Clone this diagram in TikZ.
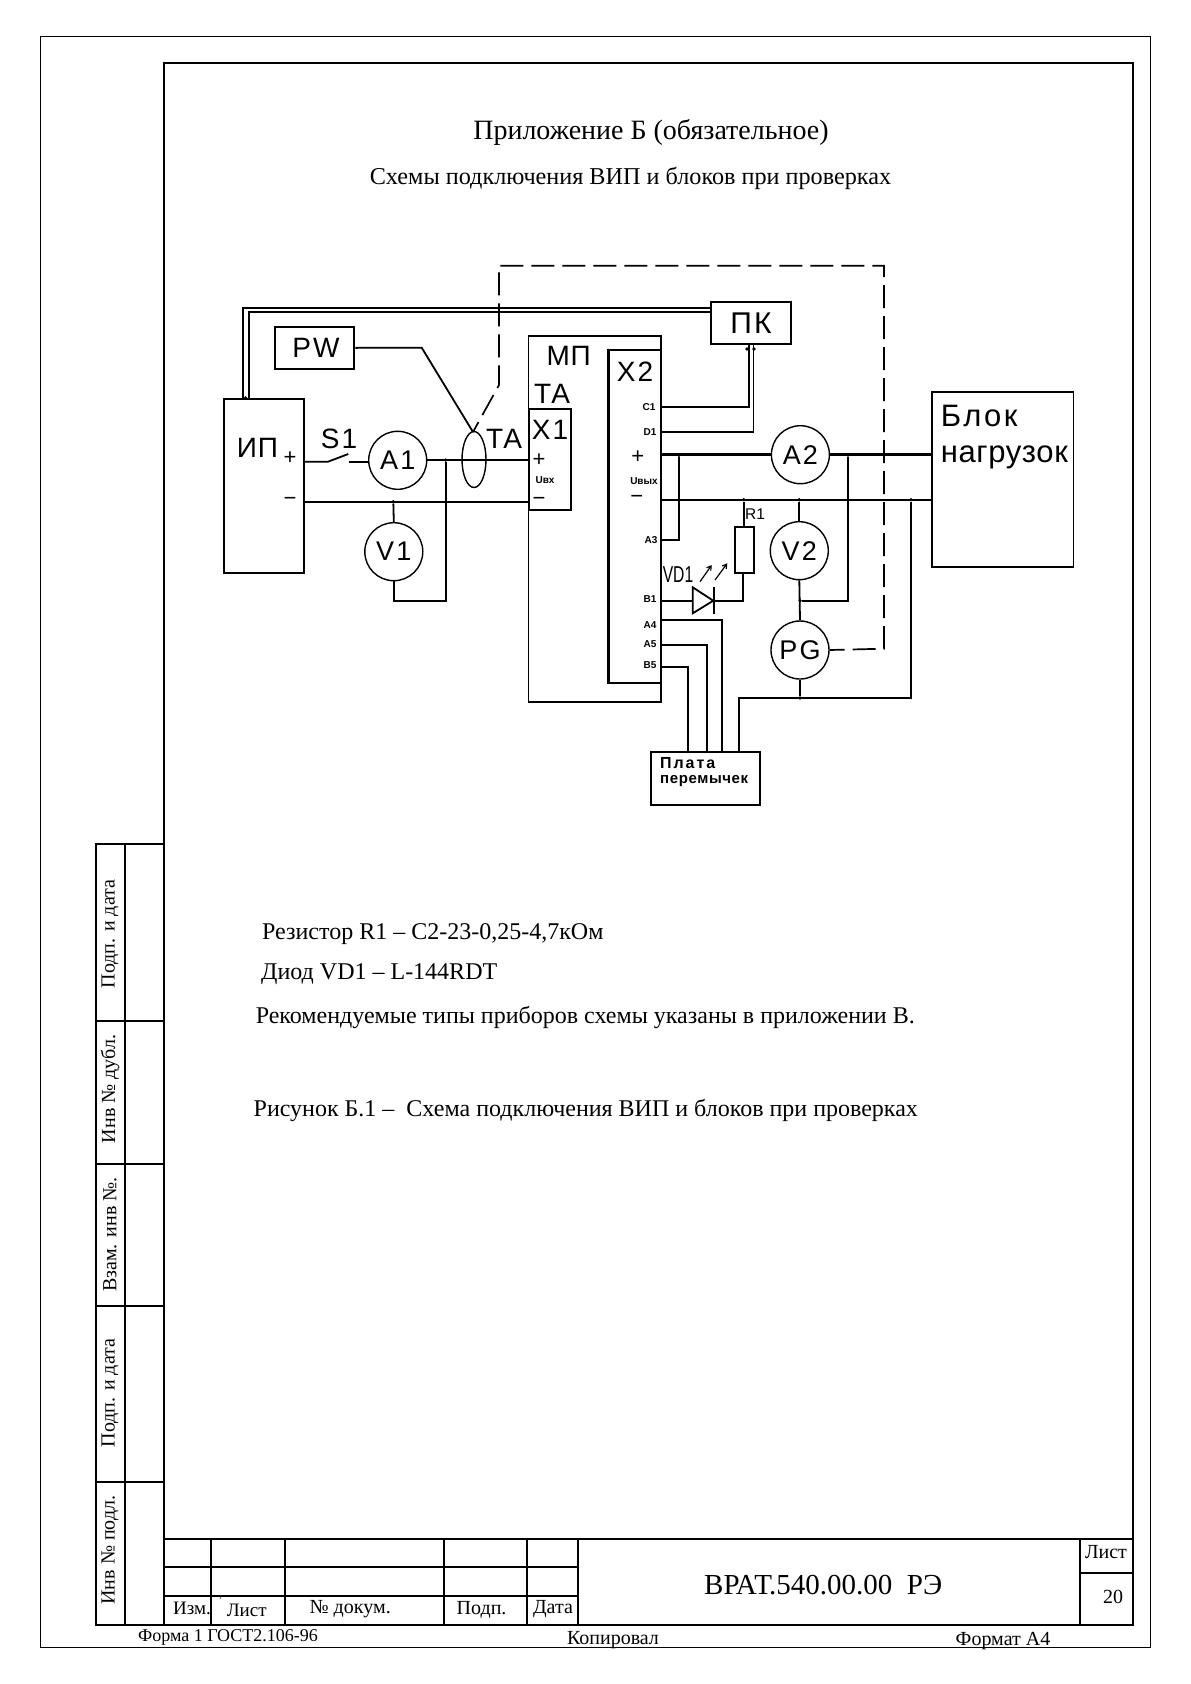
\documentclass[tikz,border=0pt]{standalone}
\usepackage{fontspec}
\usepackage{graphicx}
\usetikzlibrary{arrows.meta}
\setmainfont{Liberation Serif}
\newfontfamily\schem[LetterSpace=8]{Liberation Sans}
\newfontfamily\schemb{Liberation Sans}
\newcommand{\fs}[1]{\fontsize{#1}{#1}\selectfont}
\tikzset{
  wire/.style={line width=1.8pt},
  heavy/.style={line width=3.4pt},
  thinframe/.style={line width=1pt},
  tableline/.style={line width=2pt},
  blockbox/.style={draw,line width=1.9pt,inner sep=0pt},
  meter/.style={draw,circle,line width=1.4pt,minimum size=58pt,inner sep=0pt,font=\schem\fs{27}},
  lab/.style={inner sep=0pt,font=\schem\fs{28}},
  tiny/.style={inner sep=0pt,font=\schemb\bfseries\fs{10}},
  signs/.style={inner sep=0pt,font=\schemb\fs{22}},
  body/.style={inner sep=0pt,anchor=west,font=\fs{24}},
  small/.style={inner sep=0pt,font=\fs{20}},
  side/.style={inner sep=0pt,rotate=90,font=\fs{20}},
  jdot/.style={circle,fill=black,inner sep=0pt,minimum size=3.6pt},
  fbdash/.style={line width=1.7pt,dash pattern=on 23pt off 8pt,dash phase=8pt}
}
\begin{document}
\begin{tikzpicture}[x=1pt,y=-1pt]
\useasboundingbox (0,0) rectangle (1191,1684);
% frames
\draw[thinframe] (40,36.5) rectangle (1150.3,1647);
\draw[line width=2pt] (164.3,63.4) rectangle (1132.6,1625);
% side strip
\draw[tableline] (95.7,844.3) rectangle (164.3,1625);
\draw[tableline] (125.3,844.3) -- (125.3,1625);
\foreach \y in {1021,1164,1306,1482}{\draw[tableline] (95.7,\y) -- (164.3,\y);}
\node[side] (s1) at (110,934) {Подп. и дата};
\node[side] (s2) at (110,1089) {Инв № дубл.};
\node[side] (s3) at (110,1234.6) {Взам. инв №.};
\node[side] (s4) at (110,1393) {Подп. и дата};
\node[side] (s5) at (110,1550) {Инв № подл.};
% title block
\draw[tableline] (164.3,1539.3) -- (1132.6,1539.3);
\draw[tableline] (164.3,1567.3) -- (578.4,1567.3);
\draw[tableline] (164.3,1596) -- (578.4,1596);
\foreach \x in {211,284.5,443.7,527,578.4}{\draw[tableline] (\x,1539.3) -- (\x,1625);}
\draw[tableline] (1079.8,1539.3) -- (1079.8,1625);
\draw[tableline] (1079.8,1572.7) -- (1132.6,1572.7);
\draw[line width=0.5pt] (220.5,1597) -- (220,1599);
\node[small,font=\fs{19}] (t1) at (192,1608) {Изм.};
\node[small,font=\fs{19}] (t2) at (246.7,1610) {Лист};
\node[small] (t3) at (350.2,1609.5) {№ докум.};
\node[small] (t4) at (481.6,1609.5) {Подп.};
\node[small] (t5) at (553,1609.5) {Дата};
\node[small,font=\fs{18}] (f1) at (228,1637.7) {Форма 1 ГОСТ2.106-96};
\node[small] (f2) at (613,1640) {Копировал};
\node[small] (f3) at (1003,1641) {Формат А4};
\node[inner sep=0pt,font=\fs{29}] (doc) at (823.2,1585) {ВРАТ.540.00.00\ \ РЭ};
\node[small] (sh) at (1106,1551.7) {Лист};
\node[small] (sn) at (1113,1597) {20};
% headings
\node[inner sep=0pt,font=\fs{28}] (h1) at (651,132) {Приложение Б (обязательное)};
\node[inner sep=0pt,font=\fs{24.2}] (h2) at (630.5,178) {Схемы подключения ВИП и блоков при проверках};
\node[body] (b1) at (262,934) {Резистор R1 – С2-23-0,25-4,7кОм};
\node[body] (b2) at (261,974) {Диод VD1 – L-144RDT};
\node[body] (b3) at (255.6,1017) {Рекомендуемые типы приборов схемы указаны в приложении В.};
\node[body] (b4) at (253.5,1110) {Рисунок Б.1 –\ \ Схема подключения ВИП и блоков при проверках};
% boxes
\node[blockbox,minimum width=80.3pt,minimum height=174pt] (ip) at (263.85,486) {};
\node[blockbox,minimum width=79.6pt,minimum height=42.3pt,font=\schem\fs{28}] (pw) at (314.5,347.85) {\hspace{3pt}PW};
\node[blockbox,minimum width=80pt,minimum height=42.6pt,font=\schem\fs{30}] (pk) at (751,323) {ПК};
\node[blockbox,minimum width=141.7pt,minimum height=175pt] (load) at (1002.65,479.2) {};
\node[blockbox,minimum width=109.3pt,minimum height=53.3pt] (plate) at (705.35,778.35) {};
\node[blockbox,minimum width=132.5pt,minimum height=366pt] (mp) at (594.75,518.7) {};
\node[draw,line width=2.4pt,inner sep=0pt,minimum width=52.7pt,minimum height=333.3pt] (x2) at (634.65,516.35) {};
\node[blockbox,fill=white,minimum width=42pt,minimum height=100.7pt] (x1) at (550,459.35) {};
\node[blockbox,minimum width=19pt,minimum height=46.6pt] (r1) at (744.5,550) {};
\node[meter] (a1) at (397.7,460.3) {A1};
\node[meter] (v1) at (393.8,551.7) {V1};
\node[meter] (a2) at (800.4,454.7) {A2};
\node[meter] (v2) at (799.3,550.7) {V2};
\node[meter] (pg) at (800,650) {PG};
\draw[line width=1.4pt] (474,459.5) ellipse (12 and 28);
\coordinate (taneck) at (473,432);
% labels
\node[lab,font=\schemb\fs{28}] (lip) at (257.5,448) {\addfontfeature{LetterSpace=3}ИП};
\node[signs] (ipp) at (290,458) {+};
\node[signs] (ipm) at (290,501) {−};
\node[lab] (ls1) at (339,439.3) {S1};
\node[lab] (lta) at (504.2,439) {TA};
\node[lab,font=\schemb\fs{28}] (lmp) at (568.7,356) {\addfontfeature{LetterSpace=3}МП};
\node[lab] (lta2) at (552,394) {TA};
\node[lab] (lx1) at (550,430) {X1};
\node[lab] (lx2) at (635,372) {X2};
\node[signs] (x1p) at (539,460) {+};
\node[tiny] (x1u) at (545,480.5) {Uвх};
\node[signs] (x1m) at (539,501) {−};
\node[tiny] (c1) at (649,407.3) {C1};
\node[tiny] (d1) at (650,431.7) {D1};
\node[signs] (x2p) at (637.7,457) {+};
\node[tiny] (x2u) at (644,481) {Uвых};
\node[signs] (x2m) at (636.7,499) {−};
\node[tiny] (a3) at (651,540) {A3};
\node[tiny] (b1l) at (650,599) {B1};
\node[tiny] (a4) at (650,625) {A4};
\node[tiny] (a5) at (650,644) {A5};
\node[tiny] (b5) at (650,664.7) {B5};
\node[inner sep=0pt,font=\schemb\fs{23}] (vd) at (678,575) {\scalebox{0.68}[1]{VD1}};
\node[inner sep=0pt,font=\schemb\fs{15.5}] (lr1) at (755,514) {R1};
\node[inner sep=0pt,anchor=west,font=\schem\fs{31}] (lb1) at (940.6,416) {Блок};
\node[inner sep=0pt,anchor=west,font=\schemb\fs{31}] (lb2) at (940.6,457) {\addfontfeature{LetterSpace=2}нагрузок};
\node[inner sep=0pt,anchor=west,font=\schemb\bfseries\fs{16}] (lp1) at (660,763) {\addfontfeature{LetterSpace=12}Плата};
\node[inner sep=0pt,anchor=west,font=\schemb\bfseries\fs{15}] (lp2) at (660,781) {\addfontfeature{LetterSpace=4}перемычек};
% double line IP - PK
\coordinate (dt1) at (243.3,308);
\coordinate (dt2) at (249,311.7);
\draw[wire] (pk.west|-dt1) -- (dt1) -- (dt1|-ip.north);
\draw[wire] (pk.west|-dt2) -- (dt2) -- (dt2|-ip.north);
\node[jdot] (jip) at (245.5,398) {};
% PW to TA
\coordinate (pwk) at (421.7,347.7);
\draw[wire] (pw.east) -- (pwk) -- (taneck);
% feedback dashed
\coordinate (fb1) at (884,648.7);
\coordinate (fb2) at (884,265.7);
\coordinate (fb3) at (499,265.7);
\coordinate (fb4) at (499,385);
\draw[fbdash] (pg.east) -- (fb1) -- (fb2) -- (fb3) -- (fb4) -- (taneck);
% input side
\coordinate (sa) at (328,461.7);
\coordinate (sb) at (348.3,454);
\coordinate (sc) at (349,461.7);
\draw[wire] (ip.east|-sa) -- (sa) -- (sb);
\draw[wire] (sc) -- (a1.west|-sc);
\coordinate (ja1) at (445.7,460);
\draw[wire] (a1.east|-ja1) -- (x1.west|-ja1);
\node[jdot] (ja) at (ja1) {};
\coordinate (jv1) at (393.3,501.7);
\draw[wire] (ip.east|-jv1) -- (x1.west|-jv1);
\node[jdot] (jv) at (jv1) {};
\draw[wire] (jv) -- (v1.north);
\coordinate (v1r) at (445.7,601);
\draw[wire] (v1.south) -- (v1.south|-v1r) -- (v1r) -- (ja);
% X2 outputs
\coordinate (c1y) at (749,406.7);
\coordinate (d1y) at (753.4,431.7);
\draw[wire] (x2.east|-c1y) -- (c1y) -- (c1y|-pk.south);
\draw[wire] (x2.east|-d1y) -- (d1y) -- (d1y|-pk.south);
\node[jdot] (jpk1) at (747,349) {};
\node[jdot] (jpk2) at (754,349) {};
\draw[heavy] (x2.east|-a2.west) -- (a2.west);
\draw[heavy] (a2.east) -- (load.west|-a2.east);
\coordinate (mny) at (800,499.7);
\draw[wire] (x2.east|-mny) -- (load.west|-mny);
% A3
\node[jdot] (ja3) at (679,455.3) {};
\coordinate (a3y) at (679,539.7);
\draw[wire] (ja3) -- (a3y) -- (x2.east|-a3y);
% R1, VD1
\node[jdot] (jr1) at (743.8,499.7) {};
\draw[wire] (jr1) -- (jr1|-r1.north);
\coordinate (dl) at (692.7,600.7);
\coordinate (dr) at (714,600.7);
\coordinate (rk) at (742.7,600.7);
\draw[wire] (x2.east|-dl) -- (dl);
\draw[wire] (692.7,587.3) -- (713.3,600.7) -- (692.7,613.3) -- cycle;
\draw[wire] (714,587) -- (714,613.5);
\draw[wire] (dr) -- (rk) -- (rk|-r1.south);
\draw[line width=1.2pt,-{Straight Barb[length=4pt,width=5pt]}] (700,581.7) -- (711.7,565);
\draw[line width=1.2pt,-{Straight Barb[length=4pt,width=5pt]}] (715,580) -- (727.3,563.3);
% V2, PG
\node[jdot] (jv2) at (799.3,499.7) {};
\draw[wire] (jv2) -- (v2.north);
\node[jdot] (ja2) at (848,455) {};
\node[jdot] (jpg) at (800,600.7) {};
\draw[wire] (ja2) -- (848,600.7) -- (jpg);
\draw[wire] (v2.south) -- (pg.north);
% bottom return
\node[jdot] (jm) at (911,499.7) {};
\coordinate (by1) at (911,697.7);
\coordinate (by2) at (739,697.7);
\draw[wire] (jm) -- (by1) -- (by2) -- (by2|-plate.north);
\node[jdot] (jb) at (800,698) {};
\draw[wire] (pg.south) -- (jb);
% plate wires
\coordinate (w4) at (721.7,620);
\coordinate (w5) at (706.7,645);
\coordinate (w6) at (687.7,667.3);
\draw[wire] (x2.east|-w4) -- (w4) -- (w4|-plate.north);
\draw[wire] (x2.east|-w5) -- (w5) -- (w5|-plate.north);
\draw[wire] (x2.east|-w6) -- (w6) -- (w6|-plate.north);
\end{tikzpicture}
\end{document}
